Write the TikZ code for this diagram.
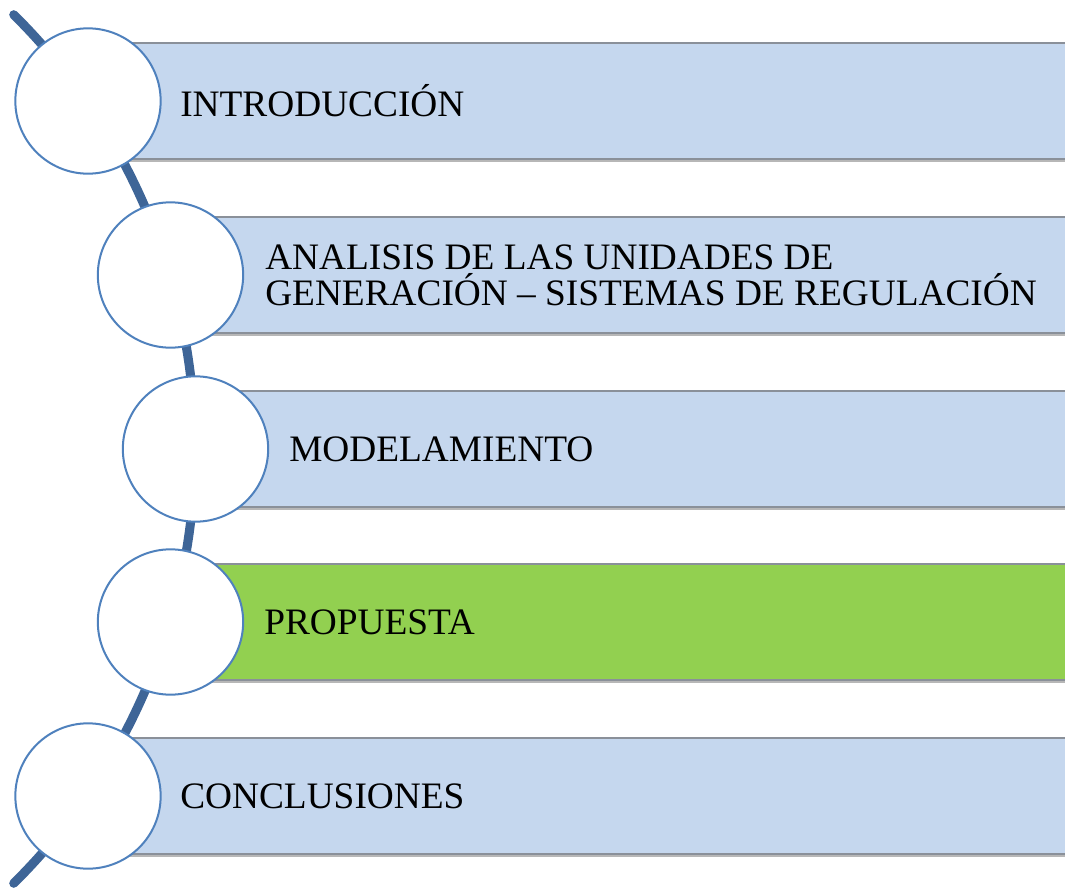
\documentclass[tikz,border=0pt]{standalone}
\usepackage{fontspec}
\setmainfont{Liberation Serif}
\usetikzlibrary{shadows}
\definecolor{arcblue}{HTML}{3E6597}
\definecolor{ringblue}{HTML}{4F81BD}
\definecolor{barblue}{HTML}{C5D7EE}
\definecolor{bargreen}{HTML}{92D050}
\definecolor{barline}{HTML}{8A9099}
\begin{document}
\begin{tikzpicture}[x=0.75pt,y=-0.75pt,
  bar/.style={draw=barline, line width=0.9pt, minimum height=87pt, anchor=west, inner sep=0pt,
    drop shadow={shadow xshift=0pt, shadow yshift=-2.5pt, opacity=0.4, fill=black!70}},
  ring/.style={circle, draw=ringblue, line width=1.5pt, fill=white, minimum size=109pt, inner sep=0pt},
  label/.style={anchor=west, inner sep=0pt, font=\fontsize{28}{28}\selectfont, align=left, text=black}]
\useasboundingbox (0,0) rectangle (1065,889);
% arc behind everything
\draw[arcblue, line width=6.8pt, line cap=round] (-416,449) ++(-45.3:611) arc[start angle=-45.3, end angle=45.3, radius=611];
% bars
\node[bar, fill=barblue, minimum width=735pt] (b1) at (88,101) {};
\node[bar, fill=barblue, minimum width=673pt] (b2) at (170,275) {};
\node[bar, fill=barblue, minimum width=654pt] (b3) at (195,449) {};
\node[bar, fill=bargreen, minimum width=673pt] (b4) at (170,622) {};
\node[bar, fill=barblue, minimum width=735pt] (b5) at (88,796) {};
% circles
\node[ring] (c1) at (88,101) {};
\node[ring] (c2) at (170.5,275) {};
\node[ring] (c3) at (195.5,449) {};
\node[ring] (c4) at (170.5,622) {};
\node[ring] (c5) at (88,796) {};
% labels
\node[label] (t1) at (180,101) {INTRODUCCIÓN};
\node[label] (t2) at (265,275) {ANALISIS DE LAS UNIDADES DE\\[-1pt]GENERACIÓN – SISTEMAS DE REGULACIÓN};
\node[label] (t3) at (289,449) {MODELAMIENTO};
\node[label] (t4) at (264,622) {PROPUESTA};
\node[label] (t5) at (180,796) {CONCLUSIONES};
\end{tikzpicture}
\end{document}
